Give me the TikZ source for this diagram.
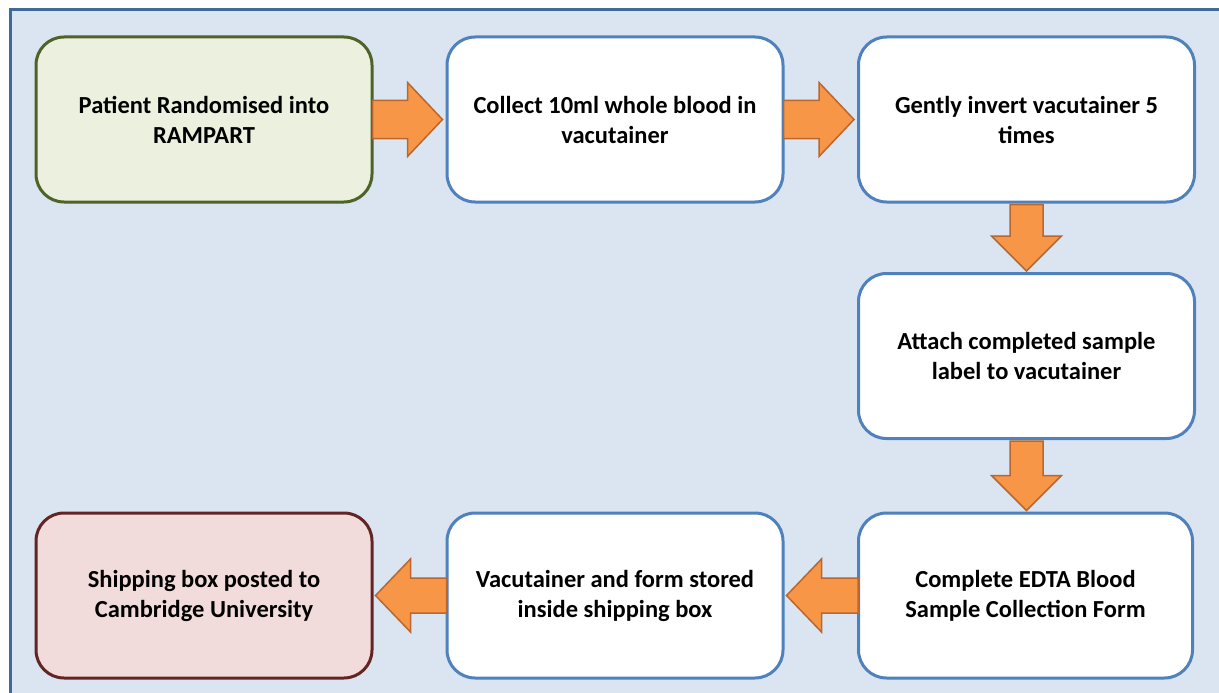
\documentclass[tikz,border=0pt]{standalone}
\usepackage{fontspec}
\setmainfont{Carlito}
\usetikzlibrary{calc}
\definecolor{bgblue}{HTML}{DBE5F1}
\definecolor{frameblue}{HTML}{41689A}
\definecolor{boxblue}{HTML}{4F81BD}
\definecolor{greenfill}{HTML}{EBF1DE}
\definecolor{greenline}{HTML}{4F6228}
\definecolor{redfill}{HTML}{F2DCDB}
\definecolor{redline}{HTML}{632523}
\definecolor{arrfill}{HTML}{F79646}
\definecolor{arrline}{HTML}{B9672E}
\tikzset{
  stepbox/.style={draw=boxblue, fill=white, line width=3pt, rounded corners=28pt,
    minimum width=336pt, minimum height=165pt, align=center,
    font=\fontsize{24.5pt}{30pt}\selectfont\bfseries, text=black},
  startbox/.style={stepbox, draw=greenline, fill=greenfill},
  endbox/.style={stepbox, draw=redline, fill=redfill},
  fatarrow/.style={fill=arrfill, draw=arrline, line width=1.5pt, line join=miter}
}
% right-pointing block arrow from east of #1 to west of #2
\newcommand\myRarrow[2]{%
  \path (#1.east) coordinate (s) (#2.west |- #1.east) coordinate (t);
  \draw[fatarrow] ($(s)+(-1,-19)$) -- ($(t)+(-38,-19)$) -- ($(t)+(-38,-37)$) -- ($(t)+(-3,0)$)
    -- ($(t)+(-38,37)$) -- ($(t)+(-38,19)$) -- ($(s)+(-1,19)$) -- cycle;}
\newcommand\myLarrow[2]{%
  \path (#1.west) coordinate (s) (#2.east |- #1.west) coordinate (t);
  \draw[fatarrow] ($(s)+(1,-17.5)$) -- ($(t)+(37,-17.5)$) -- ($(t)+(37,-36.5)$) -- ($(t)+(2,0)$)
    -- ($(t)+(37,36.5)$) -- ($(t)+(37,17.5)$) -- ($(s)+(1,17.5)$) -- cycle;}
\newcommand\myDarrow[2]{%
  \path (#1.south) coordinate (s) (#1.south |- #2.north) coordinate (t);
  \draw[fatarrow] ($(s)+(-16.5,1)$) -- ($(t)+(-16.5,-36)$) -- ($(t)+(-35,-36)$) -- ($(t)+(0,-1)$)
    -- ($(t)+(35,-36)$) -- ($(t)+(16.5,-36)$) -- ($(s)+(16.5,1)$) -- cycle;}
\begin{document}
\begin{tikzpicture}[x=1pt,y=-1pt]
  \useasboundingbox (0,0) rectangle (1219,693);
  \clip (0,0) rectangle (1219,693);
  \fill[white] (0,0) rectangle (1219,693);
  \draw[fill=bgblue, draw=frameblue, line width=2.5pt] (10.5,9.5) rectangle (1240,720);

  \node[startbox] (b1) at (204,119.5) {Patient Randomised into\\RAMPART};
  \node[stepbox]  (b2) at (615,119.5) {Collect 10ml whole blood in\\vacutainer};
  \node[stepbox]  (b3) at (1026.5,119.5) {Gently invert vacutainer 5\\times};
  \node[stepbox]  (b4) at (1026.5,356) {Attach completed sample\\label to vacutainer};
  \node[stepbox, minimum width=334pt]  (b5) at (1025.5,595.5) {Complete EDTA Blood\\Sample Collection Form};
  \node[stepbox]  (b6) at (615,595.5) {Vacutainer and form stored\\inside shipping box};
  \node[endbox]   (b7) at (204,595.5) {Shipping box posted to\\Cambridge University};

  \myRarrow{b1}{b2}
  \myRarrow{b2}{b3}
  \myDarrow{b3}{b4}
  \myDarrow{b4}{b5}
  \myLarrow{b5}{b6}
  \myLarrow{b6}{b7}
\end{tikzpicture}
\end{document}
